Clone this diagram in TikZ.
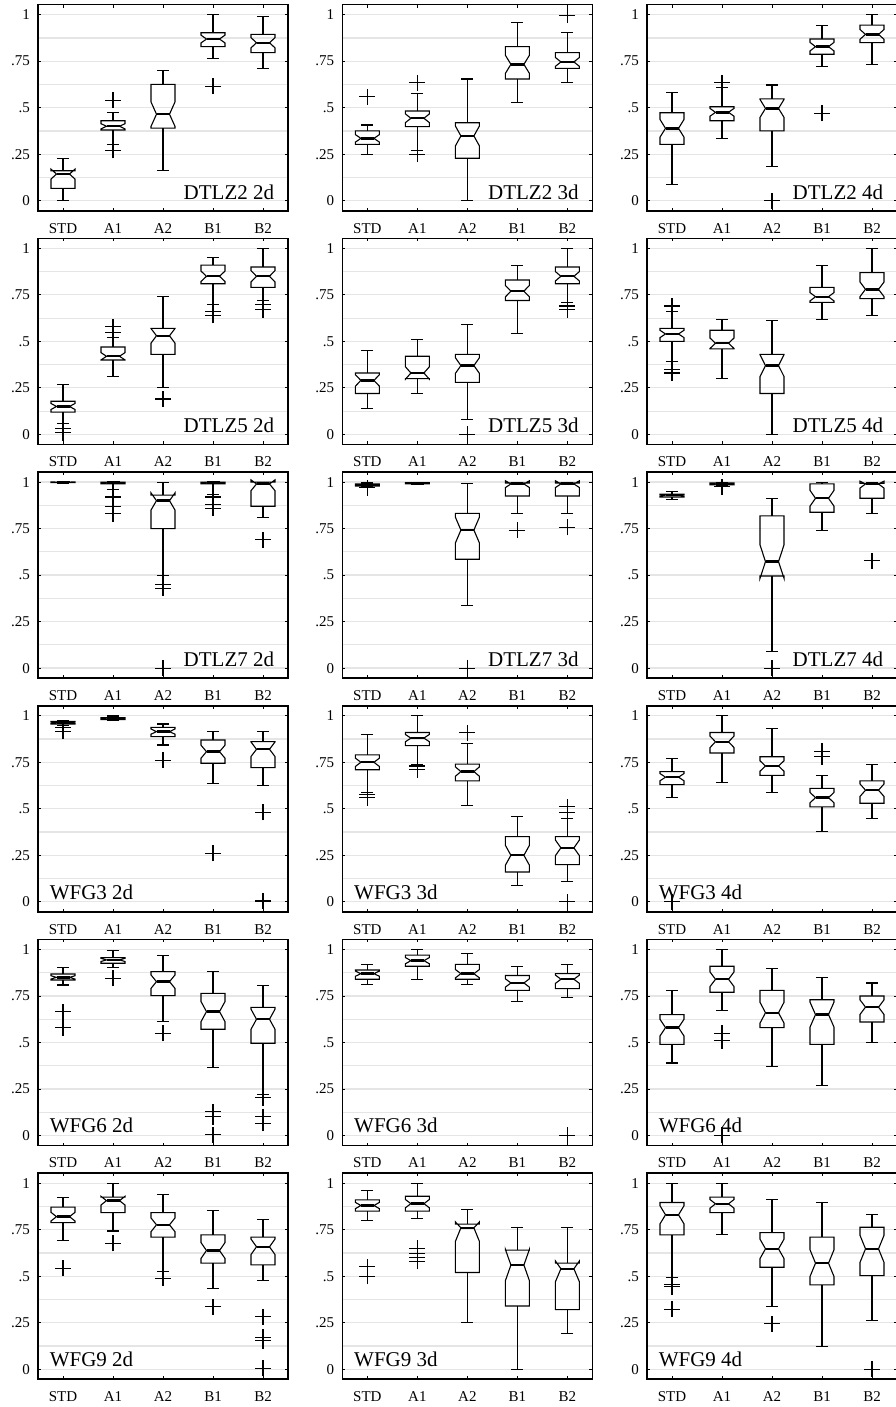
\documentclass[tikz,border=0pt]{standalone}
\usepackage{fontspec}
\setmainfont{Liberation Serif}
\definecolor{gridgray}{gray}{0.9}

\tikzset{
  gridline/.style={draw=gridgray, line width=1.2pt},
  tickline/.style={line width=0.8pt},
  frameline/.style={line width=1.6pt},
  boxline/.style={line width=1.1pt},
  medline/.style={line width=2.4pt},
  ticklabel/.style={font=\fontsize{15}{18}\selectfont, inner sep=0pt},
  titlelabel/.style={font=\fontsize{21}{25}\selectfont, inner sep=0pt}
}

% axes of one panel: grid, ticks, frame, tick labels
\newcommand{\panelframe}[1]{%
  \foreach \g in {0,0.125,...,1}
    \draw[gridline] (0.5,\g) -- (5.5,\g);
  \foreach \t/\l [count=\i] in {0/0,0.25/.25,0.5/.5,0.75/.75,1/1} {
    \draw[tickline] (0.5,\t) -- ++(3pt,0);
    \draw[tickline] (5.5,\t) -- ++(-3pt,0);
    \node[ticklabel, anchor=east] (#1-y\i) at ([xshift=-8pt]0.5,\t) {\l};
  }
  \foreach \c/\l in {1/STD,2/A1,3/A2,4/B1,5/B2} {
    \draw[tickline] (\c,-0.054) -- ++(0,3pt);
    \draw[tickline] (\c,1.054) -- ++(0,-3pt);
    \node[ticklabel] (#1-\l) at (\c,-0.148) {\l};
  }
  \draw[frameline] (0.5,-0.054) rectangle (5.5,1.054);
}

% notched box: x, lower whisker, q1, median, q3, upper whisker
\newcommand{\boxplt}[6]{%
  \pgfmathsetmacro\nd{0.28*(#5-#3)}
  \pgfmathsetmacro\nlo{max(#4-\nd,#3-0.012)}
  \pgfmathsetmacro\nhi{min(#4+\nd,#5+0.012)}
  \draw[boxline] (#1,#2) -- (#1,#3) (#1,#5) -- (#1,#6);
  \draw[boxline] (#1-0.12,#2) -- (#1+0.12,#2) (#1-0.12,#6) -- (#1+0.12,#6);
  \draw[boxline, line join=miter] (#1-0.24,#3) -- (#1-0.24,\nlo) -- (#1-0.13,#4) -- (#1-0.24,\nhi)
    -- (#1-0.24,#5) -- (#1+0.24,#5) -- (#1+0.24,\nhi) -- (#1+0.13,#4)
    -- (#1+0.24,\nlo) -- (#1+0.24,#3) -- cycle;
  \draw[medline] (#1-0.13,#4) -- (#1+0.13,#4);
}
\newcommand{\outlier}[2]{%
  \draw[boxline] (#1-0.16,#2) -- (#1+0.16,#2) (#1,#2-0.043) -- (#1,#2+0.043);
}

\begin{document}
\begin{tikzpicture}
\useasboundingbox (0,0) rectangle (896pt,1407pt);

% ---- row 1: DTLZ2
\begin{scope}[shift={(13pt,1206.3pt)}, x=50pt, y=186pt]
  \panelframe{p11}
  \boxplt{1}{0}{.066}{.143}{.161}{.226}
  \boxplt{2}{.30}{.38}{.40}{.43}{.475} \outlier{2}{.54} \outlier{2}{.27}
  \boxplt{3}{.163}{.39}{.465}{.625}{.70}
  \boxplt{4}{.763}{.828}{.869}{.903}{1} \outlier{4}{.616}
  \boxplt{5}{.71}{.796}{.849}{.894}{.989}
  \node[titlelabel, anchor=base east] (p11-title) at (5.226,0.009) {DTLZ2 2d};
\end{scope}
\begin{scope}[shift={(317.4pt,1206.3pt)}, x=50pt, y=186pt]
  \panelframe{p12}
  \boxplt{1}{.246}{.303}{.335}{.375}{.407} \outlier{1}{.559}
  \boxplt{2}{.27}{.398}{.443}{.482}{.577} \outlier{2}{.634} \outlier{2}{.25}
  \boxplt{3}{0}{.228}{.348}{.419}{.654}
  \boxplt{4}{.527}{.654}{.733}{.828}{.957}
  \boxplt{5}{.634}{.711}{.746}{.796}{.903} \outlier{5}{.998}
  \node[titlelabel, anchor=base east] (p12-title) at (5.226,0.009) {DTLZ2 3d};
\end{scope}
\begin{scope}[shift={(622pt,1206.3pt)}, x=50pt, y=186pt]
  \panelframe{p13}
  \boxplt{1}{.088}{.303}{.389}{.473}{.581}
  \boxplt{2}{.335}{.43}{.475}{.505}{.61} \outlier{2}{.635}
  \boxplt{3}{.183}{.375}{.496}{.547}{.622} \outlier{3}{0}
  \boxplt{4}{.72}{.787}{.828}{.869}{.944} \outlier{4}{.47}
  \boxplt{5}{.733}{.85}{.894}{.944}{1}
  \node[titlelabel, anchor=base east] (p13-title) at (5.226,0.009) {DTLZ2 4d};
\end{scope}

% ---- row 2: DTLZ5
\begin{scope}[shift={(13pt,972.6pt)}, x=50pt, y=186pt]
  \panelframe{p21}
  \boxplt{1}{.06}{.12}{.15}{.178}{.27} \outlier{1}{.03} \outlier{1}{.01}
  \boxplt{2}{.31}{.40}{.42}{.47}{.52} \outlier{2}{.58} \outlier{2}{.55}
  \boxplt{3}{.25}{.43}{.53}{.57}{.74} \outlier{3}{.19}
  \boxplt{4}{.70}{.81}{.85}{.91}{.95} \outlier{4}{.66} \outlier{4}{.64}
  \boxplt{5}{.72}{.79}{.85}{.90}{1} \outlier{5}{.70} \outlier{5}{.67}
  \node[titlelabel, anchor=base east] (p21-title) at (5.226,0.009) {DTLZ5 2d};
\end{scope}
\begin{scope}[shift={(317.4pt,972.6pt)}, x=50pt, y=186pt]
  \panelframe{p22}
  \boxplt{1}{.14}{.22}{.29}{.33}{.45}
  \boxplt{2}{.22}{.30}{.33}{.42}{.51}
  \boxplt{3}{.08}{.28}{.37}{.43}{.59} \outlier{3}{0}
  \boxplt{4}{.54}{.72}{.77}{.83}{.91}
  \boxplt{5}{.71}{.81}{.85}{.90}{1} \outlier{5}{.69} \outlier{5}{.67}
  \node[titlelabel, anchor=base east] (p22-title) at (5.226,0.009) {DTLZ5 3d};
\end{scope}
\begin{scope}[shift={(622pt,972.6pt)}, x=50pt, y=186pt]
  \panelframe{p23}
  \boxplt{1}{.39}{.50}{.54}{.57}{.66} \outlier{1}{.69} \outlier{1}{.35} \outlier{1}{.33}
  \boxplt{2}{.30}{.46}{.49}{.56}{.62}
  \boxplt{3}{0}{.22}{.37}{.43}{.61}
  \boxplt{4}{.62}{.71}{.74}{.79}{.91}
  \boxplt{5}{.64}{.73}{.78}{.87}{1}
  \node[titlelabel, anchor=base east] (p23-title) at (5.226,0.009) {DTLZ5 4d};
\end{scope}

% ---- row 3: DTLZ7
\begin{scope}[shift={(13pt,738.9pt)}, x=50pt, y=186pt]
  \panelframe{p31}
  \boxplt{1}{.995}{.997}{1}{1}{1}
  \boxplt{2}{.96}{.99}{.997}{1}{1} \outlier{2}{.92} \outlier{2}{.87} \outlier{2}{.83}
  \boxplt{3}{.50}{.75}{.90}{.93}{1} \outlier{3}{.45} \outlier{3}{.43} \outlier{3}{0}
  \boxplt{4}{.935}{.99}{.997}{1}{1} \outlier{4}{.92} \outlier{4}{.88} \outlier{4}{.86}
  \boxplt{5}{.81}{.87}{.99}{1}{1} \outlier{5}{.69}
  \node[titlelabel, anchor=base east] (p31-title) at (5.226,0.009) {DTLZ7 2d};
\end{scope}
\begin{scope}[shift={(317.4pt,738.9pt)}, x=50pt, y=186pt]
  \panelframe{p32}
  \boxplt{1}{.975}{.978}{.985}{.99}{.995} \outlier{1}{.97}
  \boxplt{2}{.988}{.99}{.993}{.997}{1}
  \boxplt{3}{.335}{.585}{.742}{.832}{.99} \outlier{3}{0}
  \boxplt{4}{.832}{.925}{.99}{.995}{1} \outlier{4}{.742}
  \boxplt{5}{.832}{.925}{.99}{.995}{1} \outlier{5}{.757}
  \node[titlelabel, anchor=base east] (p32-title) at (5.226,0.009) {DTLZ7 3d};
\end{scope}
\begin{scope}[shift={(622pt,738.9pt)}, x=50pt, y=186pt]
  \panelframe{p33}
  \boxplt{1}{.905}{.92}{.93}{.935}{.948}
  \boxplt{2}{.98}{.985}{.99}{.995}{1} \outlier{2}{.975}
  \boxplt{3}{.088}{.495}{.572}{.818}{.913} \outlier{3}{0}
  \boxplt{4}{.742}{.838}{.913}{.99}{.997}
  \boxplt{5}{.832}{.913}{.99}{.993}{.997} \outlier{5}{.577}
  \node[titlelabel, anchor=base east] (p33-title) at (5.226,0.009) {DTLZ7 4d};
\end{scope}

% ---- row 4: WFG3
\begin{scope}[shift={(13pt,505.2pt)}, x=50pt, y=186pt]
  \panelframe{p41}
  \boxplt{1}{.95}{.955}{.963}{.97}{.977} \outlier{1}{.935} \outlier{1}{.917}
  \boxplt{2}{.974}{.98}{.986}{.99}{.999}
  \boxplt{3}{.843}{.888}{.915}{.938}{.956} \outlier{3}{.762}
  \boxplt{4}{.637}{.745}{.807}{.87}{.915} \outlier{4}{.261}
  \boxplt{5}{.623}{.721}{.82}{.861}{.915} \outlier{5}{.481} \outlier{5}{.004}
  \node[titlelabel, anchor=base west] (p41-title) at (0.732,0.014) {WFG3 2d};
\end{scope}
\begin{scope}[shift={(317.4pt,505.2pt)}, x=50pt, y=186pt]
  \panelframe{p42}
  \boxplt{1}{.59}{.71}{.75}{.79}{.90} \outlier{1}{.575} \outlier{1}{.56}
  \boxplt{2}{.74}{.84}{.88}{.91}{1} \outlier{2}{.73} \outlier{2}{.71}
  \boxplt{3}{.52}{.65}{.70}{.74}{.85} \outlier{3}{.91}
  \boxplt{4}{.09}{.16}{.25}{.35}{.46}
  \boxplt{5}{.11}{.20}{.29}{.35}{.45} \outlier{5}{.51} \outlier{5}{.48} \outlier{5}{0}
  \node[titlelabel, anchor=base west] (p42-title) at (0.732,0.014) {WFG3 3d};
\end{scope}
\begin{scope}[shift={(622pt,505.2pt)}, x=50pt, y=186pt]
  \panelframe{p43}
  \boxplt{1}{.56}{.63}{.67}{.70}{.77} \outlier{1}{0}
  \boxplt{2}{.64}{.80}{.86}{.91}{1}
  \boxplt{3}{.59}{.68}{.73}{.78}{.93}
  \boxplt{4}{.38}{.51}{.56}{.61}{.68} \outlier{4}{.81} \outlier{4}{.78}
  \boxplt{5}{.45}{.53}{.60}{.65}{.74}
  \node[titlelabel, anchor=base west] (p43-title) at (0.732,0.014) {WFG3 4d};
\end{scope}

% ---- row 5: WFG6
\begin{scope}[shift={(13pt,271.5pt)}, x=50pt, y=186pt]
  \panelframe{p51}
  \boxplt{1}{.809}{.836}{.85}{.868}{.902} \outlier{1}{.666} \outlier{1}{.58}
  \boxplt{2}{.904}{.926}{.944}{.956}{.997} \outlier{2}{.845}
  \boxplt{3}{.612}{.752}{.827}{.881}{.967} \outlier{3}{.549}
  \boxplt{4}{.365}{.571}{.666}{.764}{.884} \outlier{4}{.128} \outlier{4}{.101} \outlier{4}{.003}
  \boxplt{5}{.222}{.496}{.625}{.689}{.805} \outlier{5}{.203} \outlier{5}{.101} \outlier{5}{.066}
  \node[titlelabel, anchor=base west] (p51-title) at (0.732,0.014) {WFG6 2d};
\end{scope}
\begin{scope}[shift={(317.4pt,271.5pt)}, x=50pt, y=186pt]
  \panelframe{p52}
  \boxplt{1}{.81}{.84}{.87}{.89}{.92}
  \boxplt{2}{.84}{.91}{.94}{.97}{1}
  \boxplt{3}{.81}{.84}{.87}{.92}{.98}
  \boxplt{4}{.72}{.78}{.82}{.86}{.91}
  \boxplt{5}{.74}{.79}{.84}{.87}{.92} \outlier{5}{0}
  \node[titlelabel, anchor=base west] (p52-title) at (0.732,0.014) {WFG6 3d};
\end{scope}
\begin{scope}[shift={(622pt,271.5pt)}, x=50pt, y=186pt]
  \panelframe{p53}
  \boxplt{1}{.39}{.49}{.58}{.65}{.78}
  \boxplt{2}{.67}{.77}{.84}{.91}{1} \outlier{2}{.55} \outlier{2}{.51} \outlier{2}{0}
  \boxplt{3}{.37}{.58}{.66}{.78}{.90}
  \boxplt{4}{.27}{.49}{.65}{.73}{.85}
  \boxplt{5}{.50}{.61}{.69}{.75}{.82}
  \node[titlelabel, anchor=base west] (p53-title) at (0.732,0.014) {WFG6 4d};
\end{scope}

% ---- row 6: WFG9
\begin{scope}[shift={(13pt,37.8pt)}, x=50pt, y=186pt]
  \panelframe{p61}
  \boxplt{1}{.691}{.788}{.82}{.871}{.925} \outlier{1}{.543}
  \boxplt{2}{.743}{.842}{.906}{.925}{1} \outlier{2}{.677}
  \boxplt{3}{.525}{.71}{.776}{.842}{.937} \outlier{3}{.489}
  \boxplt{4}{.432}{.57}{.638}{.722}{.851} \outlier{4}{.337}
  \boxplt{5}{.475}{.561}{.658}{.71}{.807} \outlier{5}{.283} \outlier{5}{.172} \outlier{5}{.154} \outlier{5}{.005}
  \node[titlelabel, anchor=base west] (p61-title) at (0.732,0.014) {WFG9 2d};
\end{scope}
\begin{scope}[shift={(317.4pt,37.8pt)}, x=50pt, y=186pt]
  \panelframe{p62}
  \boxplt{1}{.80}{.85}{.88}{.91}{.96} \outlier{1}{.55} \outlier{1}{.50}
  \boxplt{2}{.81}{.85}{.89}{.93}{1} \outlier{2}{.65} \outlier{2}{.62} \outlier{2}{.60} \outlier{2}{.58}
  \boxplt{3}{.25}{.52}{.76}{.78}{.86}
  \boxplt{4}{0}{.34}{.56}{.64}{.76}
  \boxplt{5}{.19}{.32}{.54}{.57}{.76}
  \node[titlelabel, anchor=base west] (p62-title) at (0.732,0.014) {WFG9 3d};
\end{scope}
\begin{scope}[shift={(622pt,37.8pt)}, x=50pt, y=186pt]
  \panelframe{p63}
  \boxplt{1}{.495}{.722}{.83}{.896}{1} \outlier{1}{.453} \outlier{1}{.444} \outlier{1}{.323}
  \boxplt{2}{.722}{.842}{.889}{.925}{1}
  \boxplt{3}{.337}{.548}{.647}{.734}{.914} \outlier{3}{.244}
  \boxplt{4}{.122}{.453}{.57}{.71}{.896}
  \boxplt{5}{.26}{.503}{.647}{.763}{.83} \outlier{5}{0}
  \node[titlelabel, anchor=base west] (p63-title) at (0.732,0.014) {WFG9 4d};
\end{scope}
\end{tikzpicture}
\end{document}
